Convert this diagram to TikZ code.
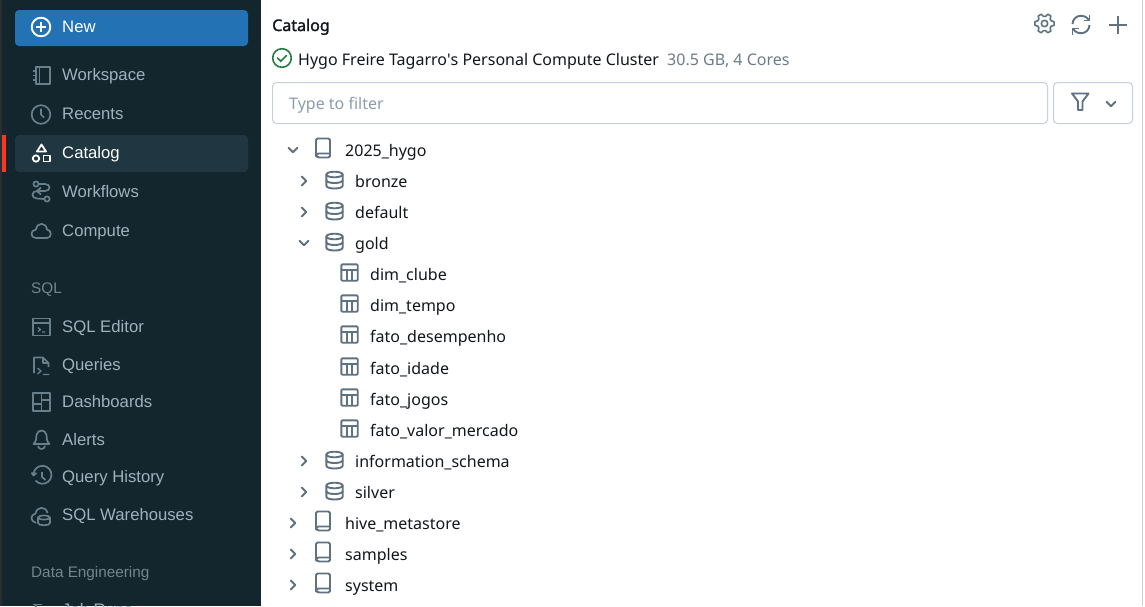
\documentclass[tikz,border=0pt]{standalone}
\usepackage{fontspec}
\setmainfont{Noto Sans}
\newfontfamily\sidefont{Liberation Sans}
\newfontfamily\titlefont[FakeBold=1.6]{Noto Sans}
\usetikzlibrary{arrows}

\definecolor{sidebg}{HTML}{13262E}
\definecolor{sideact}{HTML}{203640}
\definecolor{sideedge}{HTML}{2A2E30}
\definecolor{sidetext}{HTML}{9FB2BD}
\definecolor{sidehead}{HTML}{72868F}
\definecolor{sideicon}{HTML}{67808C}
\definecolor{newblue}{HTML}{2272B4}
\definecolor{redmark}{HTML}{FF3621}
\definecolor{inktext}{HTML}{11171C}
\definecolor{greytext}{HTML}{6B7D8B}
\definecolor{hinttext}{HTML}{8C9CAD}
\definecolor{boxline}{HTML}{C4D0DB}
\definecolor{treeicon}{HTML}{5F7281}
\definecolor{okgreen}{HTML}{277C43}

\tikzset{
	sideitem/.style = {anchor=base west, inner sep=0pt, text=sidetext, font=\sidefont\fontsize{16.7}{20}\selectfont},
	sidehd/.style = {anchor=base west, inner sep=0pt, text=sidehead, font=\sidefont\fontsize{15.3}{18}\selectfont},
	treeitem/.style = {anchor=base west, inner sep=0pt, text=inktext, font=\fontsize{16}{20}\selectfont},
	sideic/.style = {draw=sideicon, line width=1.7pt, line join=round},
	whiteic/.style = {draw=white, line width=1.8pt, line join=round},
	treeic/.style = {draw=treeicon, line width=1.9pt, line join=round},
	chevdown/.pic = {\draw[treeic, line cap=round] (-4.5,-2.2) -- (0,2.2) -- (4.5,-2.2);},
	chevright/.pic = {\draw[treeic, line cap=round] (-2.2,-4.5) -- (2.2,0) -- (-2.2,4.5);},
	bookic/.pic = {
		\draw[treeic, rounded corners=1.5pt] (-7,7) -- (-7,-9.5) -- (7,-9.5) -- (7,9.5) -- (-5,9.5) -- (-7,8) -- cycle;
		\draw[treeic] (-7,8) .. controls (-7,6) and (-6,5.5) .. (-4,5.5) -- (7,5.5);
	},
	dbic/.pic = {
		\draw[treeic] (0,-5.5) ellipse (8.2pt and 2.8pt);
		\draw[treeic] (-8.2,-5.5) -- (-8.2,5.5) .. controls (-8.2,9.5) and (8.2,9.5) .. (8.2,5.5) -- (8.2,-5.5);
		\draw[treeic] (-8.2,0) .. controls (-8.2,4) and (8.2,4) .. (8.2,0);
	},
	tableic/.pic = {
		\draw[treeic, rounded corners=1pt] (-8.2,-8.2) rectangle (8.2,8.2);
		\draw[treeic] (-8.2,-2.5) -- (8.2,-2.5) (-2.8,-2.5) -- (-2.8,8.2) (2.8,-2.5) -- (2.8,8.2);
	}
}

\begin{document}
\begin{tikzpicture}[x=1pt, y=-1pt]
	\useasboundingbox (0,0) rectangle (1145,606);
	\clip (0,0) rectangle (1145,606);
	\fill[white] (0,0) rectangle (1145,606);

	% sidebar
	\fill[sidebg] (0,0) rectangle (261,606);
	\fill[sideedge] (0,0) rectangle (2,606);
	\fill[newblue, rounded corners=4pt] (15,10) rectangle (248,46);
	\fill[sideact, rounded corners=4pt] (15,135) rectangle (248,172);
	\fill[redmark] (2,135) rectangle (6,172);

	\node[sideitem, text=white] (side-new) at (62,32) {New};
	\node[sideitem, text=white] (side-catalog) at (62,158) {Catalog};
	\foreach \y/\t/\n in {80/Workspace/workspace, 119/Recents/recents, 197/Workflows/workflows, 236/Compute/compute,
		332/SQL Editor/editor, 370/Queries/queries, 407/Dashboards/dashboards, 445/Alerts/alerts,
		482/Query History/history, 520/SQL Warehouses/warehouses, 615/Job Runs/jobs} {
		\node[sideitem] (side-\n) at (62,\y) {\t};
	}
	\node[sidehd] (head-sql) at (31,293) {SQL};
	\node[sidehd] (head-data) at (31,577) {Data Engineering};

	% sidebar icons
	\draw[whiteic, line width=1.9pt] (41,27) circle (9.3pt);
	\draw[whiteic] (36,27) -- (46,27) (41,22) -- (41,32);

	\draw[sideic] (36,67) rectangle (50,84) (39.5,67) -- (39.5,84);
	\draw[sideic, line width=1.3pt] (32.5,71) -- (36,71) (32.5,75.5) -- (36,75.5) (32.5,80) -- (36,80);

	\draw[sideic] (41,114.5) circle (9.3pt);
	\draw[sideic] (41,108.5) -- (41,114.5) -- (44,117.5);

	\draw[whiteic] (41.5,144.5) -- (46,151.5) -- (37,151.5) -- cycle;
	\draw[whiteic] (36,158.5) circle (3.2pt);
	\draw[whiteic] (43.5,155.5) rectangle (50,161.5);

	\draw[sideic] (36,184) circle (2.6pt) (47,199) circle (2.6pt);
	\draw[sideic] (39,184) -- (45,184) .. controls (51,184) and (51,191) .. (45,191) -- (37,191)
		.. controls (31,191) and (31,198.5) .. (37,198.5) -- (44,199);
	\draw[sideic] (37,191) -- (41,187.5) (37,191) -- (41,194.5);

	\draw[sideic] (36,238) .. controls (30,238) and (30,230) .. (36,229.5)
		.. controls (37,222) and (46,222) .. (47,229.5) .. controls (52,230) and (52,238) .. (47,238) -- cycle;

	\draw[sideic] (33,318.5) rectangle (50,335.5) (33,323) -- (50,323);
	\draw[sideic, line width=1.3pt] (38,327.5) -- (40.5,329.5) -- (38,331.5) (42,332) -- (45,332);

	\draw[sideic] (34,373) -- (34,357.5) -- (43,357.5) -- (48.5,363) -- (48.5,367) (43,357.5) -- (43,363) -- (48.5,363);
	\draw[sideic, line width=1.3pt] (37.5,368) -- (41,371) -- (37.5,374) (43,374.5) -- (49,374.5);

	\draw[sideic] (33,393) rectangle (50,411) (41.5,393) -- (41.5,411) (33,404) -- (41.5,404) (41.5,400) -- (50,400);

	\draw[sideic] (33.5,444) .. controls (37,441) and (36,437) .. (36.5,435) .. controls (37.5,429) and (45.5,429) .. (46.5,435)
		.. controls (47,437) and (46,441) .. (49.5,444) -- cycle;
	\draw[sideic] (38,446) .. controls (38.5,450) and (44.5,450) .. (45,446);

	\draw[sideic] (33.5,474) arc (175:-140:9pt);
	\draw[sideic] (31.5,472.5) -- (33.5,475.5) -- (36.5,473);
	\draw[sideic] (42,472) -- (42,477) -- (45.5,480);

	\draw[sideic] (36,523) .. controls (30,521) and (30,515) .. (35.5,513.5) .. controls (37,506) and (46,506) .. (47.5,513);
	\draw[sideic] (44,517.5) ellipse (6pt and 2pt) (38,517.5) -- (38,523) .. controls (38,526) and (50,526) .. (50,523) -- (50,517.5);

	\draw[sideic] (33,604.5) -- (42,604.5) (36,604.5) -- (36,608);

	% header of the panel
	\node[treeitem, font=\titlefont\fontsize{16}{20}\selectfont] (catalog-title) at (272,31) {Catalog};
	\draw[okgreen, line width=1.6pt] (282,58) circle (9.3pt);
	\draw[okgreen, line width=1.7pt, line cap=round] (277.5,58) -- (280.8,61.2) -- (286.5,55.5);
	\node[treeitem] (cluster) at (298,65) {Hygo Freire Tagarro\textquotesingle s Personal Compute Cluster};
	\node[treeitem, text=greytext] (cluster-size) at (667,65) {30.5 GB, 4 Cores};

	% gear, refresh, plus
	\begin{scope}[shift={(1044.5,23.5)}]
		\draw[treeic, line width=1.6pt] (0,0) circle (3.2pt);
		\draw[treeic, line width=1.6pt] (-10:9.8) \foreach \a in {0,60,...,300} { -- (\a-10:9.8) -- (\a+10:9.8) -- (\a+22:7.2) -- (\a+38:7.2) } -- cycle;
	\end{scope}
	\draw[treeic] (1072.5,24) .. controls (1073,15) and (1084,13) .. (1089,20);
	\draw[treeic] (1089.5,14.5) -- (1089.5,20.5) -- (1083.5,20.5);
	\draw[treeic] (1089.5,25) .. controls (1089,34) and (1078,36) .. (1073,29);
	\draw[treeic] (1072.5,34.5) -- (1072.5,28.5) -- (1078.5,28.5);
	\draw[treeic] (1108.5,25) -- (1127,25) (1117.7,16) -- (1117.7,34);

	% filter
	\draw[boxline, line width=1pt, rounded corners=4pt] (272.5,82.5) rectangle (1047.5,123.5);
	\node[treeitem, text=hinttext] (filter-hint) at (289,109) {Type to filter};
	\draw[boxline, line width=1pt, rounded corners=4pt] (1053.5,82.5) rectangle (1132.5,123.5);
	\draw[treeic] (1072,93.5) -- (1088.5,93.5) -- (1082.5,101.5) -- (1082.5,110) -- (1078,110) -- (1078,101.5) -- cycle;
	\pic at (1111,104) {chevdown};

	% tree
	\foreach \y/\t/\n in {156/2025\_hygo/cat2025, 529/hive\_metastore/hive, 560/samples/samples, 591/system/system} {
		\node[treeitem] (tree-\n) at (345,\y) {\t};
		\pic at (323,\y-8) {bookic};
	}
	\pic at (293,150) {chevdown};
	\foreach \y in {523,554,585} {
		\pic at (293,\y) {chevright};
	}

	\foreach \y/\t/\n in {187/bronze/bronze, 218/default/default, 249/gold/gold, 467/information\_schema/info, 498/silver/silver} {
		\node[treeitem] (tree-\n) at (355,\y) {\t};
		\pic at (334.5,\y-7) {dbic};
	}
	\foreach \y in {181,212,461,492} {
		\pic at (304,\y) {chevright};
	}
	\pic at (304,243) {chevdown};

	\foreach \y/\t/\n in {280/dim\_clube/clube, 311/dim\_tempo/tempo, 342/fato\_desempenho/desempenho,
		374/fato\_idade/idade, 405/fato\_jogos/jogos, 436/fato\_valor\_mercado/mercado} {
		\node[treeitem] (tree-\n) at (370,\y) {\t};
		\pic at (349.5,\y-7.5) {tableic};
	}

	% right border of the page
	\fill[boxline] (1142,0) rectangle (1143,606);
\end{tikzpicture}
\end{document}
